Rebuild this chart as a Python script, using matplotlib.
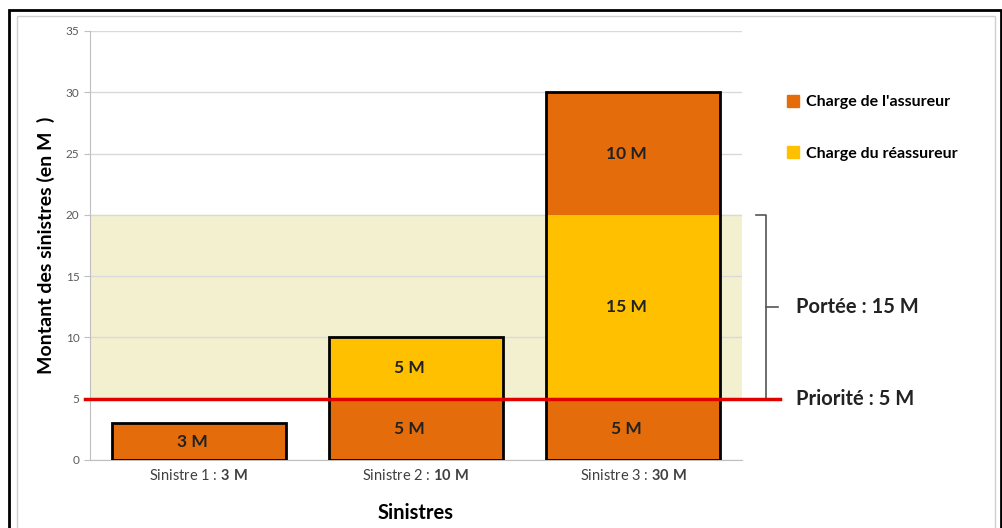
import matplotlib.pyplot as plt
from matplotlib.patches import Rectangle

plt.rcParams['font.family'] = ['Lato', 'DejaVu Sans']
plt.rcParams['mathtext.fontset'] = 'custom'
plt.rcParams['mathtext.rm'] = 'Lato'
plt.rcParams['mathtext.bf'] = 'Lato:bold'

# data
sinistres = ["Sinistre 1 : ", "Sinistre 2 : ", "Sinistre 3 : "]
montants = [3, 10, 30]
priorite = 5
portee = 15
charge_assureur_bas = [3, 5, 5]
charge_reassureur = [0, 5, 15]
charge_assureur_haut = [0, 0, 10]

orange = "#E46C0A"
jaune = "#FFC000"

fig = plt.figure(figsize=(10.03, 5.28), dpi=100)
ax = fig.add_axes([0.0897, 0.1288, 0.6501, 0.8125])

# frames around the picture
fig.patches.append(Rectangle((0.009, -0.1), 0.989, 1.082, transform=fig.transFigure,
                             fill=False, edgecolor="black", linewidth=2))
fig.patches.append(Rectangle((0.017, -0.1), 0.975, 1.07, transform=fig.transFigure,
                             fill=False, edgecolor="#d0d0d0", linewidth=1))

x = range(len(sinistres))
ax.axhspan(priorite, priorite + portee, color="#F3F0D0", zorder=0)
ax.bar(x, charge_assureur_bas, width=0.8, color=orange, linewidth=0, zorder=3)
ax.bar(x, charge_reassureur, width=0.8, bottom=charge_assureur_bas, color=jaune,
       linewidth=0, zorder=3)
bas2 = [a + b for a, b in zip(charge_assureur_bas, charge_reassureur)]
ax.bar(x, charge_assureur_haut, width=0.8, bottom=bas2, color=orange, linewidth=0, zorder=3)
# outline of the whole stacked bar
ax.bar(x, montants, width=0.8, fill=False, edgecolor="black", linewidth=2, zorder=4)

# labels in bars
for i in x:
    segs = [(0, charge_assureur_bas[i]), (charge_assureur_bas[i], charge_reassureur[i]),
            (bas2[i], charge_assureur_haut[i])]
    for b, h in segs:
        if h > 0:
            ax.text(i - 0.03, b + h / 2, f"{h} M", ha="center", va="center",
                    fontsize=12.5, fontweight="bold", color="#222222", zorder=5)

ax.axhline(priorite, xmin=-0.008, xmax=1.058, color="#E00000", linewidth=2.5,
           clip_on=False, zorder=6)

# bracket for the portee
xb, xh, xt = 2.61, 2.565, 2.665
ax.plot([xh, xb, xb, xh], [priorite + portee, priorite + portee, priorite, priorite],
        color="#555555", linewidth=1.2, clip_on=False)
ax.plot([xb, xt], [priorite + portee / 2] * 2, color="#555555", linewidth=1.2, clip_on=False)
ax.text(2.75, priorite + portee / 2, f"Portée : {portee} M", fontsize=14.5,
        fontweight="bold", va="center", color="#222222")
ax.text(2.75, priorite, f"Priorité : {priorite} M", fontsize=14.5,
        fontweight="bold", va="center", color="#222222")

ax.set_xlim(-0.5, 2.5)
ax.set_ylim(0, 35)
ax.set_yticks(range(0, 36, 5))
ax.yaxis.grid(True, color="#d9d9d9", linewidth=1)
ax.set_axisbelow(True)
ax.tick_params(axis="y", labelsize=8.5, colors="#595959", length=4, color="#bfbfbf")
ax.tick_params(axis="x", length=0, labelsize=10.5, labelcolor="#404040", pad=6)
ax.set_xticks(list(x))
ax.set_xticklabels([f"{s}$\\mathbf{{{m}\\ M}}$" for s, m in zip(sinistres, montants)])
for s in ["top", "right"]:
    ax.spines[s].set_visible(False)
ax.spines["left"].set_color("#bfbfbf")
ax.spines["bottom"].set_color("#bfbfbf")

ax.set_ylabel("Montant des sinistres (en M  )", fontsize=14, fontweight="bold", labelpad=8)
ax.set_xlabel("Sinistres", fontsize=14.5, fontweight="bold", labelpad=14)

h1 = Rectangle((0, 0), 1, 1, color=orange)
h2 = Rectangle((0, 0), 1, 1, color=jaune)
fig.legend([h1, h2], ["Charge de l'assureur", "Charge du réassureur"],
           loc="upper left", bbox_to_anchor=(0.77, 0.848), frameon=False,
           handlelength=0.8, handleheight=0.8, handletextpad=0.4, labelspacing=2.3,
           prop={"weight": "bold", "size": 11.5})

fig.savefig("out.png", dpi=100)
